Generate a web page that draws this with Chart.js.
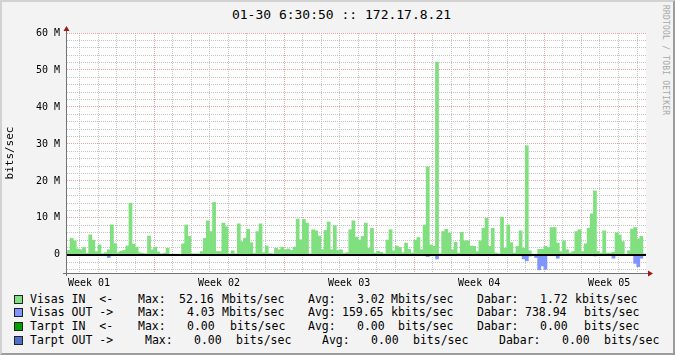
<!DOCTYPE html>
<html>
<head>
<meta charset="utf-8">
<script src="https://cdn.jsdelivr.net/npm/chart.js@4.4.1/dist/chart.umd.min.js"></script>
<style>
  html, body { margin: 0; padding: 0; }
  body { width: 675px; height: 355px; background: #f3f3f3; position: relative; overflow: hidden;
         font-family: "DejaVu Sans Mono", monospace; color: #000; }
  #moldura { position: absolute; left: 0; top: 0; width: 675px; height: 355px; box-sizing: border-box;
             border-style: solid; border-width: 2px; border-color: #d2d2d2 #9c9c9c #9c9c9c #d2d2d2; pointer-events: none; }
  #titulo { position: absolute; left: 4px; top: 6px; width: 675px; text-align: center; font-size: 13px; line-height: 18px; }
  #credito { position: absolute; left: 661px; top: 5px; writing-mode: vertical-rl; font-size: 8px; color: #a8a8a8; letter-spacing: 0.2px; }
  #graf { position: absolute; left: 0; top: 0; }
  .linha { position: absolute; left: 0; height: 14px; width: 675px; font-size: 11.5px; line-height: 14px; white-space: pre; }
  .linha span { position: absolute; top: 0; }
  .linha .cor { width: 7px; height: 7px; border: 1px solid #222; top: 3px; }
</style>
</head>
<body>
<div id="titulo">01-30 6:30:50 :: 172.17.8.21</div>
<div id="credito">RRDTOOL / TOBI OETIKER</div>
<canvas id="graf" width="675" height="290"></canvas>
<div id="legenda"></div>
<div id="moldura"></div>
<script>
// time axis in days, 0 = first day line; one bin = 4 hours
var diaInicio = -0.685;
var binDias = 1 / 6;

// Visas IN, Mbits/sec
var visasIn = [
  1.2, 4.5, 3.8, 1.6, 1.4, 2.0, 0.4, 5.4, 4.0, 0.9,
  2.7, 0.3, 0.6, 1.4, 8.1, 3.0, 0.6, 1.0, 1.2, 2.4,
  14.0, 2.9, 2.1, 0.6, 0.4, 0.3, 5.1, 1.4, 2.1, 0.8,
  0.3, 0.5, 1.8, 0.2, 0.2, 0.2, 0.1, 3.0, 8.1, 5.0,
  0.3, 0.3, 0.3, 0.9, 4.5, 9.2, 6.3, 14.2, 0.9, 0.9,
  8.6, 7.6, 0.3, 1.1, 0.3, 8.4, 3.6, 4.5, 6.9, 3.3,
  0.4, 6.3, 8.4, 0.6, 2.4, 0.4, 0.3, 1.8, 1.4, 2.1,
  1.4, 1.6, 1.2, 2.1, 9.7, 4.1, 9.6, 8.6, 0.3, 6.8,
  6.5, 5.1, 1.4, 6.6, 8.9, 1.4, 7.9, 1.2, 1.4, 0.4,
  0.6, 6.8, 9.2, 4.8, 4.0, 5.0, 8.6, 1.8, 7.2, 0.5,
  1.0, 0.7, 0.3, 4.0, 6.8, 1.1, 2.4, 2.0, 0.6, 3.2,
  1.5, 0.5, 4.0, 4.7, 1.4, 8.1, 23.8, 2.7, 2.3, 52.16,
  0.3, 6.3, 6.9, 5.9, 1.4, 3.4, 0.5, 6.1, 3.8, 3.8,
  2.4, 2.3, 0.9, 3.8, 7.2, 9.9, 2.3, 7.2, 0.5, 0.3,
  10.2, 1.8, 8.1, 3.3, 0.5, 2.3, 6.5, 1.8, 29.5, 1.1,
  0.2, 0.2, 1.5, 1.5, 2.3, 2.0, 7.4, 7.4, 3.2, 0.9,
  3.8, 1.4, 0.5, 0.9, 6.3, 6.8, 0.9, 3.0, 7.2, 11.1,
  17.3, 0.9, 0.5, 6.5, 0.5, 0.5, 0.7, 6.0, 5.4, 3.6,
  0.2, 1.1, 7.0, 7.4, 4.3, 5.0, 0.3
];

// Visas OUT, Mbits/sec (drawn below zero)
var visasOut = [
  0, 0, 0, 0, 0, 0, 0, 0, 0, 0,
  0, 0, 0, 0.7, 0, 0, 0, 0, 0, 0,
  0, 0, 0, 0, 0, 0, 0, 0, 0, 0,
  0, 0, 0, 0, 0, 0, 0, 0, 0, 0,
  0, 0, 0, 0, 0, 0, 0, 0, 0, 0,
  0, 0, 0, 0, 0, 0, 0, 0, 0, 0,
  0, 0, 0, 0, 0, 0, 0, 0, 0, 0,
  0, 0, 0, 0, 0, 0, 0, 0, 0, 0,
  0, 0, 0, 0, 0, 0, 0, 0, 0, 0,
  0, 0, 0, 0, 0, 0, 0, 0, 0, 0,
  0, 0, 0, 0, 0, 0, 0, 0, 0, 0,
  0, 0, 0, 0, 0, 0, 0.45, 0, 0, 1.1,
  0, 0, 0, 0, 0, 0, 0, 0, 0, 0,
  0, 0, 0, 0, 0, 0, 0, 0, 0, 0,
  0, 0, 0, 0, 0, 0, 0, 1.1, 1.6, 0.3,
  0, 0.7, 4.03, 3.0, 3.9, 0, 0, 0, 0.9, 0,
  0, 0, 0, 0, 0, 0, 0, 0, 0, 0,
  0.3, 0, 0, 0, 0, 0, 0.9, 0, 0, 0,
  0, 0, 0, 2.3, 3.2, 0.9, 0
];

var semanaRotulos = ['Week 01', 'Week 02', 'Week 03', 'Week 04', 'Week 05'];
var semanaDias = [0.5, 7.5, 14.5, 21.5, 28.5];
var semanaLinhas = [4, 11, 18, 25];

var yMin = -4.9;
var yMax = 60;
var yPasso = 2;
var yRotuloPasso = 10;

var legendNomes = ['Visas IN  <-', 'Visas OUT ->', 'Tarpt IN  <-', 'Tarpt OUT ->'];
var legendMax = ['52.16', '4.03', '0.00', '0.00'];
var legendMaxUn = ['Mbits/sec', 'Mbits/sec', 'bits/sec', 'bits/sec'];
var legendAvg = ['3.02', '159.65', '0.00', '0.00'];
var legendAvgUn = ['Mbits/sec', 'kbits/sec', 'bits/sec', 'bits/sec'];
var legendDabar = ['1.72', '738.94', '0.00', '0.00'];
var legendDabarUn = ['kbits/sec', 'bits/sec', 'bits/sec', 'bits/sec'];
var legendCores = ['#80e080', '#8094ff', '#00a000', '#5070c8'];

(function(){

    'use strict'

    var fonte = 'DejaVu Sans Mono';

    // x positions of the legend pieces, one list per row
    var colunas = [
        [30, 138, 179, 222, 308, 357, 391, 477, 540, 575],
        [30, 138, 187, 222, 308, 342, 391, 477, 525, 584],
        [30, 138, 187, 230, 308, 357, 398, 477, 540, 584],
        [30, 145, 194, 236, 322, 371, 413, 499, 562, 604]
    ];
    var linhasTopo = [292, 305, 319, 333];

    var view = {

        montarLegenda : function() {
            var box = document.getElementById('legenda');

            for (var i = 0; i < legendNomes.length; i++) {
                var linha = document.createElement('div');
                linha.className = 'linha';
                linha.style.top = linhasTopo[i] + 'px';

                var cor = document.createElement('span');
                cor.className = 'cor';
                cor.style.left = '14px';
                cor.style.background = legendCores[i];
                linha.appendChild(cor);

                var textos = [legendNomes[i], 'Max:', legendMax[i], legendMaxUn[i],
                              'Avg:', legendAvg[i], legendAvgUn[i],
                              'Dabar:', legendDabar[i], legendDabarUn[i]];

                for (var j = 0; j < textos.length; j++) {
                    var s = document.createElement('span');
                    s.textContent = textos[j];
                    s.style.left = colunas[i][j] + 'px';
                    linha.appendChild(s);
                }
                box.appendChild(linha);
            }
        } ,

        montarGrafico : function() {
            var pontosIn = [], pontosOut = [];

            for (var i = 0; i < visasIn.length; i++) {
                var x = diaInicio + (i + 0.5) * binDias;
                pontosIn.push({x: x, y: visasIn[i]});
                pontosOut.push({x: x, y: -visasOut[i]});
            }

            var xMax = diaInicio + visasIn.length * binDias;

            var ticksX = [];
            for (var d = 0; d <= Math.floor(xMax); d++) ticksX.push({value: d});
            for (var k = 0; k < semanaDias.length; k++) ticksX.push({value: semanaDias[k]});
            ticksX.sort(function(a, b) { return a.value - b.value; });

            var ticksY = [];
            for (var v = Math.ceil(yMin / yPasso) * yPasso; v <= yMax; v += yPasso) ticksY.push({value: v});

            var rrd = {
                id: 'rrd',
                beforeDraw: function(chart) {
                    var a = chart.chartArea, ctx = chart.ctx;
                    ctx.save();
                    ctx.fillStyle = '#ffffff';
                    ctx.fillRect(a.left, a.top, a.right - a.left, a.bottom - a.top);
                    ctx.restore();
                },
                afterDatasetsDraw: function(chart) {
                    var a = chart.chartArea, ctx = chart.ctx;
                    var y0 = Math.round(chart.scales.y.getPixelForValue(0));
                    var l = Math.round(a.left), b = Math.round(a.bottom), t = Math.round(a.top);
                    var r = Math.round(a.right);
                    ctx.save();
                    // zero line
                    ctx.fillStyle = '#000000';
                    ctx.fillRect(l, y0 - 1, r - l, 2);
                    // axes
                    ctx.fillStyle = '#707070';
                    ctx.fillRect(l - 1, t - 4, 1, b - t + 7);
                    ctx.fillRect(l - 4, b, r - l + 7, 1);
                    // arrows
                    ctx.fillStyle = '#a01818';
                    ctx.beginPath();
                    ctx.moveTo(l - 0.5, t - 7);
                    ctx.lineTo(l + 2.5, t - 2);
                    ctx.lineTo(l - 3.5, t - 2);
                    ctx.closePath();
                    ctx.fill();
                    ctx.beginPath();
                    ctx.moveTo(r + 7, b + 0.5);
                    ctx.lineTo(r + 2, b - 2.5);
                    ctx.lineTo(r + 2, b + 3.5);
                    ctx.closePath();
                    ctx.fill();
                    ctx.restore();
                }
            };

            new Chart(document.getElementById('graf').getContext('2d'), {
                type: 'bar',
                data: {
                    datasets: [{
                        label: legendNomes[0],
                        data: pontosIn,
                        backgroundColor: legendCores[0],
                        borderWidth: 0,
                        grouped: false,
                        barPercentage: 1,
                        categoryPercentage: 1
                    }, {
                        label: legendNomes[1],
                        data: pontosOut,
                        backgroundColor: legendCores[1],
                        borderWidth: 0,
                        grouped: false,
                        barPercentage: 1,
                        categoryPercentage: 1
                    }]
                },
                options: {
                    responsive: false,
                    animation: false,
                    devicePixelRatio: 1,
                    layout: { padding: { left: 0, right: 29, top: 33, bottom: 0 } },
                    plugins: {
                        legend: { display: false },
                        tooltip: { enabled: false }
                    },
                    scales: {
                        x: {
                            type: 'linear',
                            min: diaInicio,
                            max: xMax,
                            bounds: 'data',
                            offset: false,
                            afterBuildTicks: function(s) { s.ticks = ticksX; },
                            afterFit: function(s) { s.height = 17; },
                            grid: {
                                offset: false,
                                drawTicks: false,
                                lineWidth: 1,
                                color: function(c) {
                                    var val = c.tick ? c.tick.value : 0;
                                    if (val !== Math.round(val)) return 'rgba(0,0,0,0)';
                                    return semanaLinhas.indexOf(val) >= 0 ? '#e6a4a4' : '#c4c4c4';
                                }
                            },
                            border: { display: false, dash: [1, 1] },
                            ticks: {
                                autoSkip: false,
                                maxRotation: 0,
                                padding: 4,
                                color: '#000',
                                font: { family: fonte, size: 10 },
                                callback: function(val) {
                                    var idx = semanaDias.indexOf(val);
                                    return idx >= 0 ? semanaRotulos[idx] : '';
                                }
                            }
                        },
                        y: {
                            min: yMin,
                            max: yMax,
                            bounds: 'data',
                            afterBuildTicks: function(s) { s.ticks = ticksY; },
                            afterFit: function(s) { s.width = 67; },
                            grid: {
                                drawTicks: false,
                                lineWidth: 1,
                                color: function(c) {
                                    var val = c.tick ? c.tick.value : 0;
                                    return (val % yRotuloPasso === 0 && val !== 0) ? '#e6a4a4' : '#c4c4c4';
                                }
                            },
                            border: { display: false, dash: [1, 1] },
                            title: {
                                display: true,
                                text: 'bits/sec',
                                color: '#000',
                                padding: { top: 4, bottom: 0 },
                                font: { family: fonte, size: 11 }
                            },
                            ticks: {
                                autoSkip: false,
                                padding: 7,
                                color: '#000',
                                font: { family: fonte, size: 10 },
                                callback: function(val) {
                                    if (val % yRotuloPasso !== 0) return '';
                                    return val === 0 ? '0' : val + ' M';
                                }
                            }
                        }
                    }
                },
                plugins: [rrd]
            });
        } ,

        init : function() {
            view.montarLegenda();
            view.montarGrafico();
        }
    };

    view.init();

})();
</script>
</body>
</html>
